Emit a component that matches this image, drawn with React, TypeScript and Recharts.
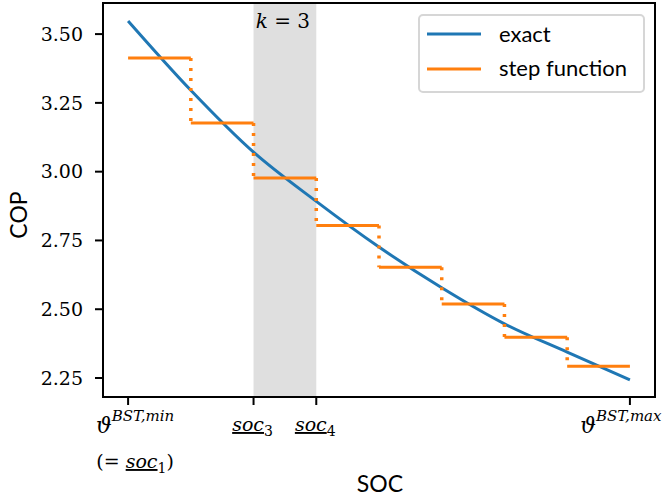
import React from "react";
import {
  Legend,
  Line,
  LineChart,
  ReferenceArea,
  XAxis,
  YAxis,
} from "recharts";

// state of charge grid points (k = 0..8) and the COP
const socPoints = [0, 1, 2, 3, 4, 5, 6, 7, 8];
const exactCop = [3.548, 3.296, 3.071, 2.892, 2.726, 2.578, 2.447, 2.344, 2.243];
// one value per interval [k, k+1]
const stepCop = [3.413, 3.177, 2.977, 2.804, 2.653, 2.519, 2.398, 2.293];

const copTicks = [2.25, 2.5, 2.75, 3.0, 3.25, 3.5];
const socTicks = [0, 2, 3, 8];
const socTickBase = ["ϑ", "soc", "soc", "ϑ"];
const socTickSup = ["BST,min", "", "", "BST,max"];
const socTickSub = ["", "3", "4", ""];
const socTickNote = ["1", "", "", ""];

const highlightK = 3;
const highlightFrom = 2;
const highlightTo = 3;

const X_DOMAIN: [number, number] = [-0.4, 8.4];
const Y_DOMAIN: [number, number] = [2.181, 3.613];

const BLUE = "#1f77b4";
const ORANGE = "#ff7f0e";
const SERIF = "DejaVu Serif";
const SANS = "Lato";

const serifStyle = { fontFamily: SERIF };
const sansStyle = { fontFamily: SANS };

const exactData = socPoints.map((soc, i) => ({ soc, cop: exactCop[i] }));

// solid flat pieces, broken with nulls
const flatData = stepCop.flatMap((cop, i) => [
  { soc: socPoints[i], cop },
  { soc: socPoints[i + 1], cop },
  { soc: socPoints[i + 1], cop: null },
]);

// dotted jumps between neighbouring steps
const jumpData = stepCop.slice(1).flatMap((cop, i) => [
  { soc: socPoints[i + 1], cop: stepCop[i] },
  { soc: socPoints[i + 1], cop },
  { soc: socPoints[i + 1], cop: null },
]);

const SocTick = (props: any) => {
  const { x, y, payload } = props;
  const i = socTicks.indexOf(payload.value);
  if (i < 0) return null;
  const base = y + 26;
  const sup = socTickSup[i];
  const sub = socTickSub[i];
  const note = socTickNote[i];
  const shift = sup ? (i === 0 ? 7 : -9) : -1;
  return (
    <g style={serifStyle} fontSize={19} fill="#000">
      {sup ? (
        <text x={x + shift} y={base} textAnchor="middle" style={serifStyle}>
          <tspan fontStyle="italic" fontSize={22}>
            {socTickBase[i]}
          </tspan>
          <tspan fontStyle="italic" fontSize={15} dy={-12}>
            {sup}
          </tspan>
        </text>
      ) : (
        <text x={x + shift} y={base - 2} textAnchor="middle" style={serifStyle}>
          <tspan fontStyle="italic" textDecoration="underline">
            {socTickBase[i]}
          </tspan>
          <tspan fontSize={14} dy={5}>
            {sub}
          </tspan>
        </text>
      )}
      {note && (
        <text x={x + shift} y={base + 35} textAnchor="middle" style={serifStyle}>
          {"(= "}
          <tspan fontStyle="italic" textDecoration="underline">
            soc
          </tspan>
          <tspan fontSize={14} dy={5}>
            {note}
          </tspan>
          <tspan dy={-5}>)</tspan>
        </text>
      )}
    </g>
  );
};

const KLabel = (props: any) => {
  const vb = props.viewBox || {};
  return (
    <text
      x={vb.x + vb.width / 2 - 2}
      y={vb.y + 25}
      textAnchor="middle"
      style={serifStyle}
      fontSize={20}
      fill="#000"
    >
      <tspan fontStyle="italic">k</tspan>
      {` = ${highlightK}`}
    </text>
  );
};

const renderLegend = (props: any) => {
  const items = (props.payload || []).filter(
    (p: any) => p.type !== "none" && p.value
  );
  return (
    <svg width={227} height={79} style={{ display: "block" }}>
      <rect
        x={1}
        y={1}
        width={225}
        height={77}
        rx={4}
        fill="#fff"
        fillOpacity={0.8}
        stroke="#d6d6d6"
        strokeWidth={2}
      />
      {items.map((p: any, i: number) => (
        <g key={p.value}>
          <line
            x1={9}
            x2={63}
            y1={20 + i * 35}
            y2={20 + i * 35}
            stroke={p.color}
            strokeWidth={3}
          />
          <text
            x={81}
            y={28 + i * 34}
            style={sansStyle}
            fontSize={22}
            fill="#000"
          >
            {p.value}
          </text>
        </g>
      ))}
    </svg>
  );
};

export default function App() {
  return (
    <div
      style={{
        position: "absolute",
        left: 0,
        top: 0,
        width: 669,
        height: 500,
        background: "#fff",
      }}
    >
      <LineChart
        width={669}
        height={500}
        margin={{ top: 3, right: 14, bottom: 0, left: 0 }}
      >
        <ReferenceArea
          x1={highlightFrom}
          x2={highlightTo}
          fill="#dfdfdf"
          fillOpacity={1}
          stroke="none"
          label={<KLabel />}
        />
        <ReferenceArea
          x1={X_DOMAIN[0]}
          x2={X_DOMAIN[1]}
          y1={Y_DOMAIN[0]}
          y2={Y_DOMAIN[1]}
          fill="none"
          stroke="#000"
          strokeWidth={2}
        />
        <XAxis
          type="number"
          dataKey="soc"
          domain={X_DOMAIN}
          ticks={socTicks}
          interval={0}
          allowDataOverflow
          height={103}
          axisLine={false}
          tickLine={{ stroke: "#000", strokeWidth: 2 }}
          tickSize={8}
          tick={<SocTick />}
          label={{
            content: () => (
              <text
                x={380}
                y={492}
                textAnchor="middle"
                style={sansStyle}
                fontSize={23}
                fill="#000"
              >
                SOC
              </text>
            ),
          }}
        />
        <YAxis
          type="number"
          domain={Y_DOMAIN}
          ticks={copTicks}
          allowDataOverflow
          width={103}
          axisLine={false}
          tickLine={{ stroke: "#000", strokeWidth: 2 }}
          tickSize={8}
          tickMargin={12}
          tickFormatter={(v: number) => v.toFixed(2)}
          tick={{ fontFamily: SERIF, fontSize: 19, fill: "#000" }}
          label={{
            content: () => (
              <text
                x={0}
                y={0}
                transform="translate(27 215) rotate(-90)"
                textAnchor="middle"
                style={sansStyle}
                fontSize={23}
                fill="#000"
              >
                COP
              </text>
            ),
          }}
        />
        <Line
          data={exactData}
          dataKey="cop"
          name="exact"
          type="monotone"
          stroke={BLUE}
          strokeWidth={3}
          dot={false}
          isAnimationActive={false}
        />
        <Line
          data={jumpData}
          dataKey="cop"
          type="linear"
          stroke={ORANGE}
          strokeWidth={3.5}
          strokeDasharray="3 7"
          dot={false}
          connectNulls={false}
          legendType="none"
          isAnimationActive={false}
        />
        <Line
          data={flatData}
          dataKey="cop"
          name="step function"
          type="linear"
          stroke={ORANGE}
          strokeWidth={3}
          dot={false}
          connectNulls={false}
          isAnimationActive={false}
        />
        <Legend
          layout="horizontal"
          verticalAlign="middle"
          align="center"
          content={renderLegend}
          wrapperStyle={{ left: 418, top: 14, width: 227, height: 79 }}
        />
      </LineChart>
    </div>
  );
}
